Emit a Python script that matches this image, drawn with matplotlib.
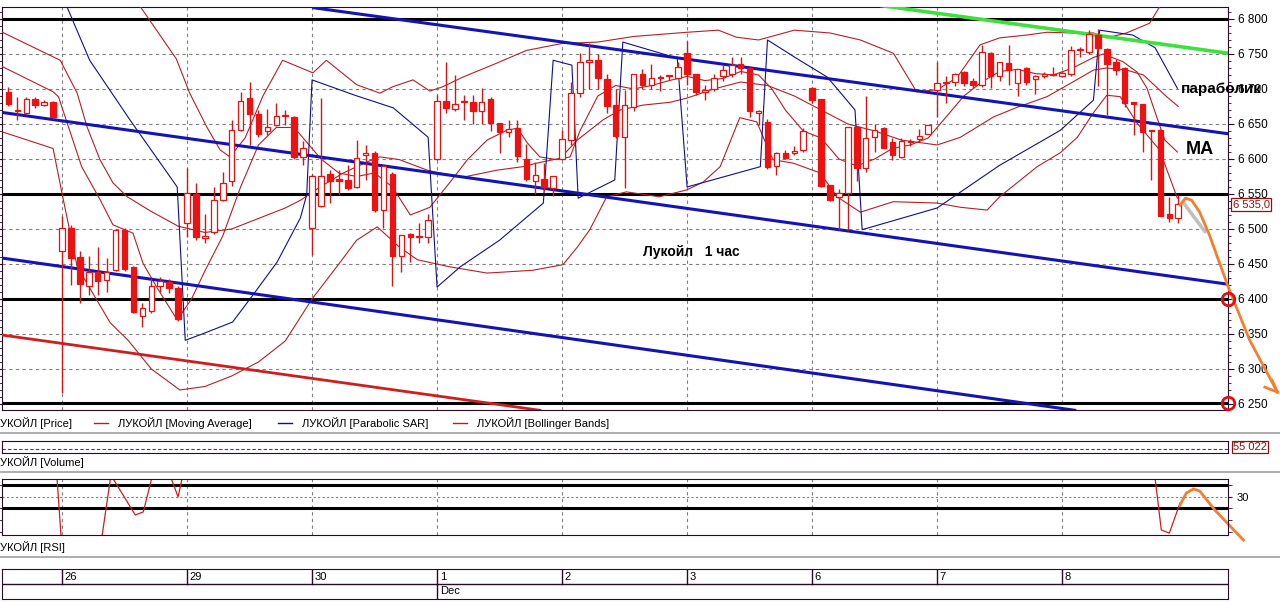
import matplotlib.pyplot as plt
from matplotlib.lines import Line2D
from matplotlib.ticker import MultipleLocator, FuncFormatter

W, H = 1280, 602

# hourly candles, index 0 = first hour of 26 Nov
idx = list(range(-6, 126))
opens = [6695, 6668, 6666, 6685, 6677, 6681,
         6468, 6501, 6460, 6419, 6438, 6427, 6442, 6499, 6445, 6375, 6383, 6419, 6424, 6415,
         6508, 6550, 6487, 6495, 6542, 6568, 6642, 6687, 6664, 6640, 6649, 6661, 6660, 6603,
         6501, 6533, 6579, 6571, 6570, 6560, 6606, 6609, 6527, 6579, 6461, 6493, 6489, 6488,
         6600, 6683, 6671, 6681, 6681, 6668, 6685, 6651, 6638, 6644, 6600, 6569, 6571, 6558,
         6600, 6627, 6694, 6738, 6742, 6714, 6677, 6631, 6674, 6721, 6705, 6716, 6718, 6716,
         6751, 6721, 6695, 6700, 6718, 6722, 6735, 6730, 6665, 6653, 6590, 6608, 6608, 6613,
         6702, 6685, 6563, 6545, 6551, 6645, 6587, 6632, 6644, 6624, 6603, 6624, 6628, 6636,
         6698, 6710, 6710, 6724, 6711, 6706, 6751, 6718, 6737, 6709, 6730, 6714, 6718, 6721,
         6719, 6721, 6755, 6753, 6777, 6757, 6739, 6730, 6681, 6679, 6641, 6641, 6522, 6516]
highs = [6703, 6688, 6688, 6689, 6684, 6683,
         6518, 6505, 6468, 6462, 6474, 6458, 6500, 6501, 6447, 6394, 6430, 6432, 6428, 6418,
         6587, 6566, 6521, 6560, 6582, 6655, 6696, 6710, 6670, 6671, 6680, 6670, 6662, 6625,
         6578, 6687, 6584, 6584, 6591, 6627, 6620, 6612, 6592, 6581, 6492, 6494, 6508, 6522,
         6692, 6739, 6720, 6692, 6692, 6702, 6688, 6651, 6655, 6655, 6621, 6596, 6594, 6576,
         6641, 6710, 6751, 6765, 6750, 6722, 6700, 6699, 6722, 6728, 6735, 6720, 6720, 6738,
         6768, 6722, 6705, 6722, 6734, 6746, 6745, 6733, 6670, 6657, 6610, 6613, 6618, 6644,
         6703, 6686, 6563, 6557, 6646, 6647, 6690, 6650, 6645, 6630, 6630, 6628, 6643, 6649,
         6739, 6718, 6723, 6725, 6715, 6763, 6753, 6739, 6763, 6729, 6732, 6720, 6724, 6731,
         6725, 6762, 6760, 6784, 6786, 6759, 6743, 6731, 6682, 6679, 6641, 6643, 6546, 6549]
lows = [6676, 6656, 6664, 6673, 6675, 6657,
        6265, 6420, 6394, 6406, 6406, 6410, 6440, 6440, 6380, 6360, 6380, 6410, 6408, 6368,
        6489, 6484, 6480, 6493, 6540, 6561, 6640, 6620, 6632, 6634, 6647, 6649, 6600, 6591,
        6463, 6531, 6537, 6549, 6555, 6558, 6570, 6524, 6501, 6418, 6439, 6453, 6480, 6480,
        6598, 6665, 6668, 6655, 6650, 6650, 6640, 6608, 6632, 6596, 6569, 6550, 6554, 6547,
        6599, 6620, 6688, 6700, 6700, 6665, 6630, 6558, 6668, 6700, 6700, 6697, 6713, 6716,
        6706, 6691, 6684, 6697, 6712, 6717, 6722, 6660, 6648, 6585, 6577, 6600, 6605, 6610,
        6680, 6560, 6540, 6499, 6499, 6568, 6582, 6610, 6615, 6598, 6602, 6618, 6626, 6635,
        6660, 6680, 6704, 6704, 6702, 6703, 6702, 6711, 6705, 6690, 6705, 6693, 6716, 6718,
        6717, 6719, 6745, 6750, 6704, 6663, 6720, 6674, 6634, 6610, 6570, 6519, 6510, 6508]
closes = [6678, 6669, 6685, 6677, 6681, 6660,
          6501, 6459, 6421, 6438, 6425, 6438, 6498, 6443, 6382, 6387, 6418, 6426, 6416, 6372,
          6551, 6488, 6490, 6542, 6566, 6642, 6683, 6664, 6635, 6646, 6661, 6662, 6603, 6615,
          6576, 6576, 6569, 6569, 6559, 6602, 6609, 6527, 6590, 6461, 6491, 6488, 6490, 6513,
          6683, 6673, 6678, 6682, 6668, 6682, 6652, 6638, 6643, 6604, 6571, 6577, 6560, 6575,
          6628, 6694, 6739, 6742, 6716, 6676, 6633, 6677, 6721, 6705, 6716, 6717, 6719, 6732,
          6722, 6696, 6699, 6716, 6727, 6734, 6730, 6668, 6669, 6588, 6609, 6602, 6612, 6640,
          6684, 6561, 6542, 6551, 6645, 6587, 6630, 6641, 6615, 6605, 6626, 6625, 6633, 6649,
          6709, 6708, 6722, 6708, 6706, 6753, 6718, 6738, 6727, 6728, 6710, 6718, 6722, 6720,
          6723, 6755, 6756, 6779, 6759, 6735, 6727, 6680, 6678, 6639, 6640, 6519, 6516, 6535]

# indicator lines (candle index, price)
bb_up_x = [-7, 8.0, 8.8, 12.8, 14.3, 16.2, 17.7, 18.8, 20.5, 22.5, 24.7, 28.1, 29.6, 33,
           35.6, 37, 39.3, 41.2, 42.6, 44.9, 48.7, 52, 56, 60, 64, 70, 73.5, 75.5, 78, 82,
           86, 89.4, 93.1, 95.7, 98, 100.2, 102.8, 105, 108, 110.3, 113.2, 115.5, 117,
           119.2, 121.8, 123.5, 125]
bb_up_y = [6900, 6900, 6817, 6743, 6694, 6646, 6613, 6603, 6630, 6690, 6741, 6723, 6741,
           6706, 6694, 6703, 6713, 6697, 6703, 6717, 6737, 6755, 6765, 6767, 6775, 6781,
           6784, 6774, 6770, 6784, 6780, 6770, 6751, 6696, 6699, 6716, 6763, 6773, 6777,
           6781, 6780, 6780, 6773, 6780, 6794, 6830, 6860]
bb_mid_x = [-7, -0.2, 1.7, 2.8, 4.25, 5.7, 7.3, 10, 13, 16, 19, 22, 25, 26.7, 28.9, 31.5,
            34.2, 35.6, 37.8, 40.9, 42.3, 44.9, 48.7, 51.6, 53.5, 55.8, 57.7, 60.6, 62.5,
            65.1, 68.1, 70, 73, 76, 79, 82, 85, 88, 91, 94, 98, 100.6, 104.3, 107, 110.3,
            113.2, 115.5, 117, 119.2, 121.1, 123.7, 125]
bb_mid_y = [6783, 6741, 6694, 6646, 6599, 6566, 6546, 6525, 6504, 6495, 6500, 6515, 6530,
            6541, 6560, 6580, 6596, 6603, 6599, 6584, 6580, 6574, 6584, 6589, 6595, 6601,
            6627, 6656, 6670, 6677, 6681, 6687, 6700, 6710, 6705, 6690, 6670, 6650, 6640,
            6627, 6620, 6631, 6660, 6674, 6689, 6710, 6727, 6730, 6727, 6720, 6689, 6675]
ma_x = [-7, -1.0, -0.4, 2.2, 4.3, 5.7, 7.95, 9.07, 10.6, 12.9, 14.5, 16, 18, 20, 22, 24, 26,
        27, 29, 31, 33, 35, 37, 39, 41.2, 43.4, 45.4, 47.6, 49.8, 51, 52.1, 53.5, 55.4, 56.9,
        58, 60, 62, 64, 66, 68, 70, 72, 74, 76, 78, 79.5, 81, 83, 85, 87, 89, 91, 93, 95, 97,
        99, 101, 103, 105, 107, 109, 111, 113.2, 115.5, 116.6, 118.8, 120.4, 121.5, 122.4,
        123.5, 124.9]
ma_y = [6734, 6696, 6689, 6589, 6541, 6506, 6494, 6451, 6417, 6370, 6400, 6440, 6490, 6560,
        6620, 6645, 6645, 6630, 6600, 6580, 6575, 6580, 6560, 6520, 6531, 6566, 6599, 6627,
        6641, 6644, 6623, 6603, 6599, 6603, 6640, 6690, 6705, 6700, 6705, 6712, 6718, 6712,
        6715, 6725, 6720, 6700, 6670, 6640, 6630, 6600, 6590, 6600, 6615, 6620, 6630, 6660,
        6690, 6710, 6725, 6728, 6722, 6720, 6730, 6745, 6750, 6739, 6724, 6701, 6667, 6627,
        6610]
bb_lo_x = [-7, -1, 0, 1.7, 5.4, 7.4, 10, 13.2, 16, 19, 22, 25, 28, 31, 33, 35.3, 37.8, 39.8,
           43.4, 47.6, 52.7, 56.1, 57.7, 59.1, 61, 63.2, 66.9, 70, 71.8, 73.7, 75.9, 77.8,
           79.6, 81.9, 84.9, 86.8, 89.4, 93.1, 98, 100.6, 103.6, 105, 109.2, 111.8, 113.7,
           115.5, 117, 118.5, 120.4, 122.9, 124.9]
bb_lo_y = [6640, 6615, 6551, 6446, 6366, 6341, 6300, 6270, 6275, 6290, 6310, 6340, 6400,
           6450, 6484, 6503, 6474, 6456, 6446, 6437, 6441, 6449, 6474, 6499, 6546, 6553,
           6546, 6556, 6567, 6589, 6659, 6653, 6599, 6594, 6580, 6546, 6524, 6539, 6537,
           6531, 6527, 6546, 6589, 6609, 6631, 6666, 6691, 6689, 6651, 6613, 6544]
sar_x = [-0.5, 0.5, 3.1, 7.6, 12.9, 13.8, 15.5, 19.1, 21.4, 24.1, 26.7, 27.4, 28.0, 32.8, 37.1,
         41.0, 42.0, 44.6, 49.0, 53.9, 55.0, 57.1, 57.8, 61.9, 62.8, 68.9, 70.0, 78.2, 79.0,
         82.6, 85.7, 88.8, 89.6, 98.0, 105.0, 111.8, 115.5, 116.2, 119.9, 122.4, 124.9]
sar_y = [6850, 6819, 6741, 6656, 6560, 6341, 6349, 6367, 6406, 6453, 6516, 6549, 6713, 6691,
         6673, 6631, 6417, 6446, 6484, 6537, 6741, 6734, 6544, 6570, 6767, 6744, 6560, 6589,
         6770, 6741, 6717, 6670, 6499, 6530, 6591, 6641, 6684, 6784, 6777, 6759, 6701]

# RSI (only the part near 30 is visible)
rsi_x = [-0.7, 0.0, 2.0, 4.5, 5.4, 5.6, 5.8, 8.2, 9.1, 10.0, 10.4, 12.0, 12.2, 13.0, 13.6,
         60.0, 122.0, 122.4, 123.1, 124.0, 125.2]
rsi_y = [46, 7, 5, 13.5, 37.4, 40, 37.4, 22.2, 23.5, 37.4, 41, 41, 38.3, 30, 41,
         55, 41, 38.3, 15.7, 14.3, 27.4]

day_pos = [0, 14, 28, 42, 56, 70, 84, 98, 112]
day_labels = ["26", "29", "30", "1", "2", "3", "6", "7", "8"]
levels = [6800, 6550, 6400, 6252]
last_price = 6535.0
volume_last = "55 022"

# hand drawn lines: (x0, y0, x1, y1) in candle index / price
channel_lines = [(28.2, 6816, 130.6, 6636), (-7, 6667, 130.6, 6421), (-7, 6459, 113.4, 6241)]
green_line = (91.8, 6819, 130.6, 6751)
red_line = (-7, 6349, 53.5, 6241)
arrow_x = [125.2, 125.8, 126.5, 127.4, 128.5, 130.6, 133.0, 136.1]
arrow_y = [6534, 6544, 6541, 6524, 6491, 6417, 6341, 6267]
grey_x = [125.5, 128.0]
grey_y = [6539, 6496]
rsi_arrow_x = [125.2, 125.9, 126.7, 127.4, 129.1, 132.3]
rsi_arrow_y = [26.5, 31.7, 33.5, 32.6, 24.3, 11.3]

XL = (-6.72, 130.57)
YL = (6241.4, 6817.1)
FRAME = "#2a0a2a"
RED = "#ee1111"
THIN_RED = "#b3202a"
plt.rcParams["font.family"] = ["Liberation Sans", "DejaVu Sans"]


def rect(x0, y0, x1, y1):
    return [x0 / W, 1 - y1 / H, (x1 - x0) / W, (y1 - y0) / H]


def fx(px):
    return px / W


def fy(py):
    return 1 - py / H


fig = plt.figure(figsize=(W / 100, H / 100), dpi=100)

# ---- main price panel
ax = fig.add_axes(rect(2, 7, 1228, 410))
ax.set_xlim(*XL)
ax.set_ylim(*YL)
for s in ax.spines.values():
    s.set_color(FRAME)
ax.yaxis.set_major_locator(MultipleLocator(50))
ax.yaxis.set_minor_locator(MultipleLocator(10))
ax.yaxis.set_major_formatter(FuncFormatter(lambda v, p: f"{v:,.0f}".replace(",", " ")))
ax.tick_params(axis="y", which="both", left=True, right=True, labelleft=False,
               labelright=True, direction="out", colors=FRAME, labelcolor="black",
               labelsize=8.5, pad=3)
ax.tick_params(axis="y", which="major", length=4)
ax.tick_params(axis="y", which="minor", length=2)
ax.set_xticks([])
for v in range(6300, 6800, 50):
    ax.axhline(v, color="#808080", lw=0.8, ls=(0, (3, 3)), zorder=1)
for d in day_pos:
    ax.axvline(d, color="#808080", lw=0.8, ls=(0, (3, 3)), zorder=1)
for lv in levels:
    ax.axhline(lv, color="black", lw=2.2, zorder=2)

ax.plot(bb_up_x, bb_up_y, color=THIN_RED, lw=0.8, zorder=3)
ax.plot(bb_mid_x, bb_mid_y, color=THIN_RED, lw=0.8, zorder=3)
ax.plot(ma_x, ma_y, color=THIN_RED, lw=0.8, zorder=3)
ax.plot(bb_lo_x, bb_lo_y, color=THIN_RED, lw=0.8, zorder=3)
ax.plot(sar_x, sar_y, color="#10108a", lw=0.8, zorder=3)

for x0, y0, x1, y1 in channel_lines:
    ax.plot([x0, x1], [y0, y1], color="#1414b4", lw=2.2, zorder=4)
ax.plot(green_line[::2], green_line[1::2], color="#3ee03e", lw=2.6, zorder=4)
ax.plot(red_line[::2], red_line[1::2], color="#cc2020", lw=2.0, zorder=4)

# candles
ax.vlines(idx, lows, highs, color="#cc1a1a", lw=1.0, zorder=5)
for i, o, c in zip(idx, opens, closes):
    lo, hi = min(o, c), max(o, c)
    h = max(hi - lo, 1.5)
    if c >= o:
        ax.bar(i, h, bottom=lo, width=0.62, facecolor="white", edgecolor="#dd1515",
               lw=0.9, zorder=6)
    else:
        ax.bar(i, h, bottom=lo, width=0.62, facecolor=RED, edgecolor=RED, lw=0.9, zorder=6)

ax.plot(grey_x, grey_y, color="#c0c0c0", lw=2.6, zorder=7, clip_on=False,
        solid_capstyle="round")
ax.plot(arrow_x, arrow_y, color="#f08030", lw=2.0, zorder=8, clip_on=False)
ax.plot([arrow_x[-1] - 1.4, arrow_x[-1]], [arrow_y[-1] + 7, arrow_y[-1]], color="#f08030",
        lw=2.0, zorder=8, clip_on=False)
ax.plot([arrow_x[-1] - 0.6, arrow_x[-1]], [arrow_y[-1] + 17, arrow_y[-1]], color="#f08030",
        lw=2.0, zorder=8, clip_on=False)
for lv in levels[2:]:
    ax.plot(XL[1], lv, marker="o", ms=9, mfc="none", mec="#e01010", mew=2.0, clip_on=False,
            zorder=9)

ax.text(131.1, last_price, f"{last_price:,.1f}".replace(",", " ").replace(".", ","),
        fontsize=8, color="#901010", va="center", ha="left", clip_on=False,
        bbox=dict(boxstyle="square,pad=0.12", fc="white", ec="#901010", lw=0.9))

fig.text(fx(643), fy(252), "Лукойл   1 час", fontsize=10, fontweight="bold", va="center")
fig.text(fx(1181), fy(89), "параболик", fontsize=11, fontweight="bold", va="center")
fig.text(fx(1186), fy(150), "МА", fontsize=13, fontweight="bold", va="center")

# ---- legend row (left edge of the picture cuts the first letter)
fig.text(0, fy(423), "УКОЙЛ [Price]", fontsize=8, va="center")
legend_items = [(94, THIN_RED, "ЛУКОЙЛ [Moving Average]"),
                (278, "#10108a", "ЛУКОЙЛ [Parabolic SAR]"),
                (453, THIN_RED, "ЛУКОЙЛ [Bollinger Bands]")]
for x0, col, lab in legend_items:
    fig.add_artist(Line2D([fx(x0), fx(x0 + 14)], [fy(423), fy(423)], color=col, lw=1.0))
    fig.text(fx(x0 + 24), fy(423), lab, fontsize=8, va="center")
for yy in (433, 472, 557):
    fig.add_artist(Line2D([0, 1], [fy(yy), fy(yy)], color="#a0a0a0", lw=1.2))

# ---- volume strip
axv = fig.add_axes(rect(2, 441, 1228, 453))
axv.set_xlim(*XL)
axv.set_ylim(0, 1)
axv.set_xticks([])
axv.set_yticks([])
for s in axv.spines.values():
    s.set_color(FRAME)
axv.axhline(0.35, color="#603060", lw=0.8, ls=(0, (3, 2)))
fig.text(fx(1233), fy(447), volume_last, fontsize=8, color="#901010", va="center",
         bbox=dict(boxstyle="square,pad=0.12", fc="white", ec="#901010", lw=0.9))
fig.text(0, fy(462), "УКОЙЛ [Volume]", fontsize=8, va="center")

# ---- RSI panel
axr = fig.add_axes(rect(2, 479, 1228, 535))
axr.set_xlim(*XL)
axr.set_ylim(13.5, 37.8)
axr.set_xticks([])
for s in axr.spines.values():
    s.set_color(FRAME)
axr.set_yticks([30])
axr.yaxis.set_minor_locator(MultipleLocator(5))
axr.tick_params(axis="y", which="both", left=True, right=True, labelleft=False,
                labelright=True, direction="out", colors=FRAME, labelcolor="black",
                labelsize=8, length=3)
for d in day_pos:
    axr.axvline(d, color="#808080", lw=0.8, ls=(0, (3, 3)))
axr.axhline(30, color="#808080", lw=0.8, ls=(0, (2, 2)))
axr.axhline(35, color="black", lw=2.2)
axr.axhline(25, color="black", lw=2.2)
axr.plot(rsi_x, rsi_y, color="#cc2020", lw=0.9)
axr.plot(rsi_arrow_x, rsi_arrow_y, color="#f08030", lw=2.0, clip_on=False)
fig.text(0, fy(547), "УКОЙЛ [RSI]", fontsize=8, va="center")

# ---- date axis
axd = fig.add_axes(rect(2, 569, 1228, 599))
axd.set_xlim(*XL)
axd.set_ylim(0, 2)
axd.set_xticks([])
axd.set_yticks([])
for s in axd.spines.values():
    s.set_color(FRAME)
axd.axhline(1, color=FRAME, lw=1.0)
for d, lab in zip(day_pos, day_labels):
    axd.plot([d, d], [1, 2], color=FRAME, lw=1.0)
    axd.text(d + 0.3, 1.5, lab, fontsize=8, va="center", ha="left")
axd.plot([day_pos[3], day_pos[3]], [0, 1], color=FRAME, lw=1.0)
axd.text(day_pos[3] + 0.3, 0.5, "Dec", fontsize=8, va="center", ha="left")

fig.savefig("out.png", dpi=100)
